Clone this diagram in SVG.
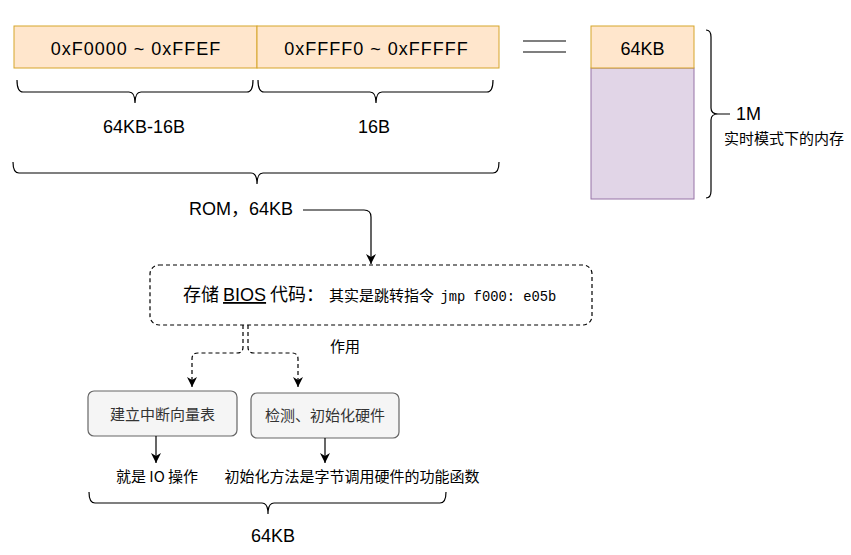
<svg xmlns="http://www.w3.org/2000/svg" width="851" height="555" viewBox="0 0 851 555">
<style>
.lat{font-family:"Liberation Sans","Noto Sans CJK SC",sans-serif;font-size:18px;fill:#000}
.cjk{font-family:"Noto Sans CJK SC","Liberation Sans",sans-serif;font-size:15px;fill:#000}
.mono{font-family:"Liberation Mono","Noto Sans CJK SC",monospace;font-size:13.8px}
.org{fill:#ffe6cc;stroke:#d6a52a;stroke-width:1}
.brace{fill:none;stroke:#000;stroke-width:1.2}
.ln{fill:none;stroke:#000;stroke-width:1.2}
.dash{fill:none;stroke:#000;stroke-width:1.2;stroke-dasharray:4 3}
.grey{fill:#f5f5f5;stroke:#666;stroke-width:1.2}
.wide{letter-spacing:1px}
</style>
<defs>
<marker id="arr" viewBox="0 0 10 10" refX="10" refY="5" markerWidth="10" markerHeight="10" orient="auto" markerUnits="userSpaceOnUse">
<path d="M0,0 L10,5 L0,10 L3,5 z" fill="#000"/>
</marker>
</defs>
<rect width="851" height="555" fill="#fff"/>

<g id="seg-left">
<rect class="org" x="14" y="26" width="243" height="42"/>
<text class="lat wide" x="136" y="55" text-anchor="middle">0xF0000 ~ 0xFFEF</text>
</g>
<g id="seg-right">
<rect class="org" x="257" y="26" width="242" height="42"/>
<text class="lat wide" x="376.5" y="55" text-anchor="middle">0xFFFF0 ~ 0xFFFFF</text>
</g>

<g id="braces">
<path class="brace" d="M17,80 Q17,92 23,92 L129,92 Q135,92 135,103 M253,80 Q253,92 247,92 L141,92 Q135,92 135,103"/>
<path class="brace" d="M258,80 Q258,92 264,92 L370,92 Q376,92 376,103 M493,80 Q493,92 487,92 L382,92 Q376,92 376,103"/>
<path class="brace" d="M13,162 Q13,173 19,173 L251,173 Q257,173 257,184 M499,162 Q499,173 493,173 L263,173 Q257,173 257,184"/>
<path class="brace" d="M89,492 Q89,503 95,503 L262,503 Q268,503 268,514 M446,492 Q446,503 440,503 L274,503 Q268,503 268,514"/>
<path class="brace" d="M706,30 Q711,30 711,37 L711,108 Q711,114 718,114 L730,114 M706,198 Q711,198 711,191 L711,120 Q711,114 718,114"/>
</g>

<text class="lat" x="144" y="133" text-anchor="middle">64KB-16B</text>
<text class="lat" x="374" y="133" text-anchor="middle">16B</text>
<text class="lat" x="189" y="215">ROM，64KB</text>

<g id="equals">
<line class="ln" x1="523" y1="41" x2="566" y2="41"/>
<line class="ln" x1="523" y1="52" x2="566" y2="52"/>
</g>

<g id="mem">
<rect x="591" y="68" width="103" height="131" fill="#e1d5e7" stroke="#9673a6" stroke-width="1"/>
<rect class="org" x="591" y="26" width="103" height="42"/>
<text class="lat" x="642.5" y="55" text-anchor="middle">64KB</text>
</g>
<text class="lat" x="736" y="120">1M</text>
<text class="cjk" x="724" y="144">实时模式下的内存</text>

<g id="bios">
<rect class="dash" x="150" y="265" width="442" height="60" rx="9"/>
<text x="183" y="301"><tspan class="lat" style="font-family:'Noto Sans CJK SC',sans-serif">存储 </tspan><tspan class="lat" text-decoration="underline">BIOS</tspan><tspan class="lat" style="font-family:'Noto Sans CJK SC',sans-serif"> 代码：</tspan><tspan class="cjk" dx="5">其实是跳转指令 </tspan><tspan class="mono" dx="3">jmp f000: e05b</tspan></text>
</g>

<g id="node-ivt">
<rect class="grey" x="88" y="391" width="149" height="45" rx="6"/>
<text class="cjk" x="162.5" y="420" text-anchor="middle" style="fill:#333">建立中断向量表</text>
</g>
<g id="node-hw">
<rect class="grey" x="251" y="393" width="148" height="45" rx="6"/>
<text class="cjk" x="325" y="421" text-anchor="middle" style="fill:#333">检测、初始化硬件</text>
</g>

<g id="connectors">
<path class="ln" d="M303,210 L364,210 Q371,210 371,217 L371,264" marker-end="url(#arr)"/>
<path class="dash" d="M243,325 L243,347 Q243,353 237,353 L198,353 Q192,353 192,359 L192,387" marker-end="url(#arr)"/>
<path class="dash" d="M248,325 L248,347 Q248,353 254,353 L292,353 Q298,353 298,359 L298,387" marker-end="url(#arr)"/>
<path class="ln" d="M156,436 L156,463" marker-end="url(#arr)"/>
<path class="ln" d="M325,438 L325,463" marker-end="url(#arr)"/>
</g>

<text class="cjk" x="330" y="352">作用</text>
<text class="cjk" x="157" y="482" text-anchor="middle">就是 IO 操作</text>
<text class="cjk" x="352" y="482" text-anchor="middle">初始化方法是字节调用硬件的功能函数</text>
<text class="lat" x="273" y="542" text-anchor="middle">64KB</text>
</svg>
